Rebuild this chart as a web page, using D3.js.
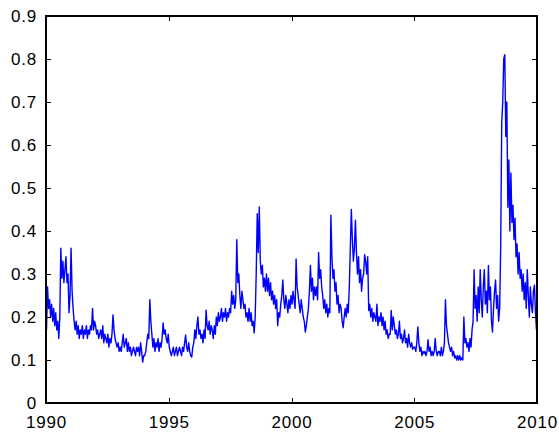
<!DOCTYPE html>
<html>
<head>
<meta charset="utf-8">
<script src="https://cdn.jsdelivr.net/npm/d3@7"></script>
<style>
  body { margin: 0; background: #fff; }
  svg text { font-family: "Liberation Sans", Arial, sans-serif; }
</style>
</head>
<body>
<svg width="559" height="434"></svg>
<script>
// semi-monthly readings, 24 per year
var years = [1990,1991,1992,1993,1994,1995,1996,1997,1998,1999,2000,2001,2002,2003,2004,2005,2006,2007,2008,2009];
var v1990 = [0.17,0.27,0.22,0.24,0.20,0.23,0.19,0.22,0.18,0.21,0.17,0.19,0.15,0.20,0.36,0.29,0.33,0.28,0.31,0.34,0.28,0.30,0.21,0.25];
var v1991 = [0.36,0.26,0.22,0.19,0.17,0.19,0.16,0.18,0.15,0.17,0.16,0.18,0.15,0.17,0.16,0.18,0.15,0.17,0.16,0.18,0.17,0.22,0.17,0.19];
var v1992 = [0.18,0.16,0.17,0.15,0.16,0.17,0.15,0.18,0.14,0.16,0.15,0.14,0.16,0.13,0.15,0.14,0.16,0.205,0.17,0.15,0.14,0.13,0.14,0.12];
var v1993 = [0.13,0.12,0.14,0.16,0.13,0.14,0.15,0.12,0.14,0.12,0.13,0.11,0.12,0.13,0.12,0.11,0.13,0.12,0.13,0.11,0.14,0.12,0.095,0.11];
var v1994 = [0.11,0.12,0.14,0.16,0.15,0.24,0.19,0.16,0.13,0.15,0.12,0.14,0.13,0.15,0.12,0.14,0.13,0.15,0.186,0.16,0.17,0.15,0.14,0.16];
var v1995 = [0.13,0.12,0.11,0.12,0.13,0.11,0.12,0.13,0.11,0.12,0.13,0.12,0.11,0.13,0.12,0.14,0.158,0.13,0.12,0.14,0.12,0.11,0.107,0.13];
var v1996 = [0.14,0.17,0.15,0.18,0.20,0.16,0.17,0.15,0.16,0.14,0.17,0.15,0.216,0.18,0.17,0.19,0.16,0.18,0.17,0.15,0.18,0.16,0.20,0.18];
var v1997 = [0.21,0.19,0.20,0.22,0.19,0.21,0.20,0.22,0.19,0.21,0.20,0.22,0.21,0.26,0.23,0.25,0.22,0.24,0.38,0.28,0.30,0.25,0.22,0.26];
var v1998 = [0.24,0.22,0.23,0.20,0.21,0.19,0.22,0.19,0.21,0.18,0.19,0.163,0.20,0.30,0.44,0.35,0.456,0.33,0.30,0.32,0.27,0.29,0.26,0.30];
var v1999 = [0.26,0.29,0.25,0.28,0.24,0.26,0.23,0.25,0.22,0.24,0.18,0.21,0.20,0.23,0.25,0.286,0.24,0.22,0.25,0.23,0.21,0.24,0.22,0.25];
var v2000 = [0.23,0.26,0.24,0.22,0.335,0.27,0.25,0.23,0.21,0.24,0.22,0.20,0.19,0.165,0.18,0.20,0.22,0.26,0.32,0.26,0.29,0.24,0.27,0.25];
var v2001 = [0.27,0.24,0.35,0.29,0.31,0.27,0.25,0.22,0.24,0.21,0.23,0.20,0.22,0.21,0.437,0.34,0.29,0.31,0.26,0.28,0.23,0.25,0.21,0.23];
var v2002 = [0.22,0.19,0.175,0.20,0.22,0.20,0.23,0.21,0.27,0.36,0.45,0.38,0.33,0.36,0.425,0.35,0.30,0.34,0.28,0.31,0.26,0.29,0.30,0.345];
var v2003 = [0.33,0.30,0.34,0.215,0.23,0.20,0.22,0.19,0.21,0.20,0.19,0.23,0.18,0.20,0.19,0.21,0.18,0.20,0.17,0.19,0.16,0.17,0.15,0.16];
var v2004 = [0.16,0.215,0.17,0.20,0.18,0.16,0.17,0.15,0.16,0.19,0.15,0.16,0.14,0.15,0.17,0.14,0.15,0.13,0.16,0.14,0.13,0.14,0.125,0.13];
var v2005 = [0.13,0.12,0.14,0.177,0.14,0.12,0.13,0.11,0.12,0.115,0.12,0.11,0.12,0.147,0.12,0.13,0.11,0.12,0.11,0.12,0.15,0.12,0.11,0.12];
var v2006 = [0.12,0.11,0.13,0.11,0.12,0.14,0.24,0.18,0.16,0.14,0.13,0.12,0.13,0.11,0.12,0.105,0.11,0.10,0.11,0.10,0.11,0.10,0.105,0.10];
var v2007 = [0.20,0.14,0.15,0.13,0.14,0.12,0.15,0.13,0.17,0.19,0.31,0.22,0.25,0.19,0.27,0.21,0.31,0.24,0.20,0.27,0.31,0.23,0.26,0.21];
var v2008 = [0.32,0.24,0.27,0.19,0.165,0.22,0.26,0.286,0.22,0.25,0.19,0.22,0.36,0.65,0.70,0.80,0.81,0.62,0.70,0.455,0.565,0.40,0.535,0.42];
var v2009 = [0.46,0.38,0.43,0.34,0.37,0.30,0.35,0.29,0.31,0.26,0.30,0.24,0.28,0.22,0.31,0.25,0.20,0.27,0.23,0.21,0.26,0.274,0.21,0.17];
var yTicks = [0,0.1,0.2,0.3,0.4,0.5,0.6,0.7,0.8,0.9];
var xTicks = [1990,1995,2000,2005,2010];

var series = [v1990,v1991,v1992,v1993,v1994,v1995,v1996,v1997,v1998,v1999,
              v2000,v2001,v2002,v2003,v2004,v2005,v2006,v2007,v2008,v2009];

var data = [];
years.forEach(function(yr, k){
  series[k].forEach(function(v, i){
    data.push({t: yr + (i + 0.5) / 24, v: v});
  });
});

var plotL = 46, plotR = 537, plotT = 16, plotB = 403;

var svg = d3.select("svg");

var x = d3.scaleLinear().domain([1990, 2010]).range([plotL, plotR]);
var y = d3.scaleLinear().domain([0, 0.9]).range([plotB, plotT]);

var line = d3.line()
  .x(function(d){ return x(d.t); })
  .y(function(d){ return y(d.v); });

svg.append("path")
  .datum(data)
  .attr("d", line)
  .attr("fill", "none")
  .attr("stroke", "#0000ff")
  .attr("stroke-width", 1.4)
  .attr("stroke-linejoin", "round");

var fmtY = function(d){ return d === 0 ? "0" : d.toFixed(1); };

// axes, ticks inward on all four sides
var gl = svg.append("g").attr("transform", "translate(" + plotL + ",0)")
  .call(d3.axisLeft(y).tickValues(yTicks).tickFormat(fmtY).tickSize(-5).tickPadding(9));
var gr = svg.append("g").attr("transform", "translate(" + plotR + ",0)")
  .call(d3.axisRight(y).tickValues(yTicks).tickFormat("").tickSize(-5));
var gb = svg.append("g").attr("transform", "translate(0," + plotB + ")")
  .call(d3.axisBottom(x).tickValues(xTicks).tickFormat(d3.format("d")).tickSize(-5).tickPadding(13));
var gt = svg.append("g").attr("transform", "translate(0," + plotT + ")")
  .call(d3.axisTop(x).tickValues(xTicks).tickFormat("").tickSize(-5));

[gl, gr, gb, gt].forEach(function(g){
  g.select(".domain").remove();
  g.selectAll("line").attr("stroke", "#000").attr("stroke-width", 1).attr("shape-rendering", "crispEdges");
  g.selectAll("text")
    .attr("fill", "#000")
    .style("font-size", "17px")
    .style("letter-spacing", "0.8px")
    .style("font-family", "'Liberation Sans', Arial, sans-serif");
});

svg.append("rect")
  .attr("x", plotL)
  .attr("y", plotT)
  .attr("width", plotR - plotL)
  .attr("height", plotB - plotT)
  .attr("fill", "none")
  .attr("stroke", "#000")
  .attr("stroke-width", 1.2)
  .attr("shape-rendering", "crispEdges");
</script>
</body>
</html>
